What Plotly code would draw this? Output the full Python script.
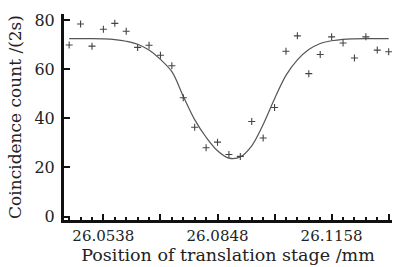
import plotly.graph_objects as go

# Measured data (position in mm, coincidence counts per 2 s)
positions = [26.0445, 26.0476, 26.0507, 26.0538, 26.0569, 26.0600, 26.0631, 26.0662,
             26.0693, 26.0724, 26.0755, 26.0786, 26.0817, 26.0848, 26.0879, 26.0910,
             26.0941, 26.0972, 26.1003, 26.1034, 26.1065, 26.1096, 26.1127, 26.1158,
             26.1189, 26.1220, 26.1251, 26.1282, 26.1313]
counts = [69.9, 78.4, 69.4, 76.3, 78.7, 75.5, 68.9, 69.8, 65.7, 61.4, 48.4, 36.4,
          28.0, 30.3, 25.3, 24.5, 38.7, 32.0, 44.4, 67.3, 73.6, 58.2, 66.0, 73.2,
          70.7, 64.6, 73.2, 67.8, 67.1]

# Fitted curve at the same positions
fit_counts = [72.5, 72.5, 72.5, 72.4, 72.1, 71.4, 70.2, 67.8, 64.0, 59.0, 49.0, 39.5,
              32.3, 26.8, 23.8, 24.3, 28.8, 37.5, 48.0, 57.5, 63.8, 68.0, 70.5, 71.6,
              72.2, 72.4, 72.5, 72.5, 72.5]

x_tickvals = [26.0538, 26.0693, 26.0848, 26.1003, 26.1158, 26.1313]
x_ticktext = ["26.0538", "", "26.0848", "", "26.1158", ""]
y_tickvals = [0, 20, 40, 60, 80]

font_family = "DejaVu Serif"

fig = go.Figure()
fig.add_trace(go.Scatter(
    x=positions, y=fit_counts, mode="lines",
    line=dict(color="#555555", width=1.2, shape="spline", smoothing=1.0),
    hoverinfo="skip", showlegend=False))
fig.add_trace(go.Scatter(
    x=positions, y=counts, mode="markers",
    marker=dict(symbol="cross-thin", size=5, line=dict(color="#444444", width=1.1)),
    showlegend=False))

fig.update_layout(
    width=396, height=267,
    margin=dict(l=64, r=4, t=14, b=47),
    paper_bgcolor="white", plot_bgcolor="white",
    font=dict(family=font_family, size=16, color="#222222"),
    xaxis=dict(
        range=[26.0431, 26.1322],
        tickmode="array", tickvals=x_tickvals, ticktext=x_ticktext,
        ticks="inside", ticklen=6, tickwidth=2, tickcolor="#111111",
        minor=dict(tickmode="linear", tick0=26.0538, dtick=0.0031,
                   ticks="inside", ticklen=3, tickwidth=2, tickcolor="#111111"),
        showline=True, linecolor="#111111", linewidth=3,
        showgrid=False, zeroline=False, automargin=False,
        tickfont=dict(size=15),
        ticklabelstandoff=0,
        title=dict(text="Position of translation stage /mm", font=dict(size=17.5), standoff=0),
    ),
    yaxis=dict(
        range=[-1.4, 82.5],
        tickmode="array", tickvals=y_tickvals,
        ticks="inside", ticklen=6, tickwidth=2, tickcolor="#111111",
        showline=True, linecolor="#111111", linewidth=3,
        showgrid=False, zeroline=False, automargin=False,
        tickfont=dict(size=16),
        ticklabelstandoff=3,
        title=dict(text="Coincidence count /(2s)", font=dict(size=17), standoff=9),
    ),
)

fig.write_html("out.html", config={"displayModeBar": False},
               post_script="document.body.style.margin='0px';")
